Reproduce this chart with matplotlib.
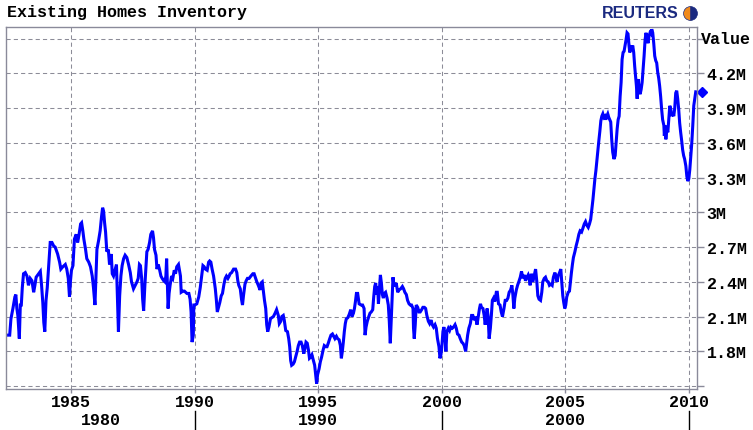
import numpy as np
import matplotlib.pyplot as plt
import matplotlib.transforms as mtransforms

# existing homes inventory, millions
years = [
    1982.40, 1982.51, 1982.56, 1982.64, 1982.72, 1982.76, 1982.80, 1982.84, 1982.90, 1982.94, 1982.98,
    1983.02, 1983.07, 1983.14, 1983.21, 1983.27, 1983.34, 1983.41, 1983.48, 1983.53, 1983.58, 1983.68,
    1983.75, 1983.80, 1983.85, 1983.89, 1983.93, 1983.98,
    1984.03, 1984.08, 1984.15, 1984.22, 1984.29, 1984.35, 1984.45, 1984.53, 1984.58, 1984.66, 1984.76,
    1984.82, 1984.88, 1984.93, 1984.97,
    1985.01, 1985.07, 1985.13, 1985.20, 1985.26, 1985.31, 1985.38, 1985.42, 1985.47, 1985.51, 1985.58,
    1985.63, 1985.71, 1985.78, 1985.85, 1985.90, 1985.96,
    1986.00, 1986.04, 1986.11, 1986.17, 1986.23, 1986.27, 1986.31, 1986.35, 1986.39, 1986.44, 1986.50,
    1986.55, 1986.62, 1986.66, 1986.71, 1986.78, 1986.83, 1986.87, 1986.91, 1986.96,
    1987.01, 1987.06, 1987.12, 1987.18, 1987.25, 1987.32, 1987.39, 1987.44, 1987.52, 1987.59, 1987.66,
    1987.71, 1987.76, 1987.80, 1987.85, 1987.89, 1987.93, 1987.98,
    1988.02, 1988.06, 1988.11, 1988.17, 1988.22, 1988.29, 1988.33, 1988.37, 1988.43, 1988.47, 1988.52,
    1988.57, 1988.63, 1988.68, 1988.74, 1988.79, 1988.83, 1988.86, 1988.88, 1988.92, 1988.96,
    1989.00, 1989.06, 1989.11, 1989.17, 1989.22, 1989.27, 1989.34, 1989.38, 1989.42, 1989.45, 1989.52,
    1989.58, 1989.68, 1989.76, 1989.81, 1989.85, 1989.89, 1989.94, 1989.96,
    1990.00, 1990.08, 1990.16, 1990.22, 1990.27, 1990.33, 1990.38, 1990.43, 1990.50, 1990.56, 1990.60,
    1990.65, 1990.70, 1990.76, 1990.83, 1990.87, 1990.91, 1990.96,
    1991.01, 1991.07, 1991.12, 1991.18, 1991.23, 1991.28, 1991.34, 1991.39, 1991.43, 1991.49, 1991.57,
    1991.65, 1991.70, 1991.74, 1991.78, 1991.84, 1991.89, 1991.93, 1991.97,
    1992.03, 1992.08, 1992.13, 1992.20, 1992.27, 1992.35, 1992.40, 1992.51, 1992.57, 1992.64, 1992.68,
    1992.73, 1992.78, 1992.82, 1992.87, 1992.91, 1992.95,
    1993.00, 1993.06, 1993.11, 1993.18, 1993.25, 1993.31, 1993.38, 1993.42, 1993.48, 1993.52, 1993.58,
    1993.62, 1993.68, 1993.75, 1993.80, 1993.84, 1993.88, 1993.92, 1993.98,
    1994.03, 1994.08, 1994.14, 1994.19, 1994.24, 1994.30, 1994.35, 1994.41, 1994.46, 1994.50, 1994.55,
    1994.60, 1994.64, 1994.69, 1994.74, 1994.80, 1994.85, 1994.89, 1994.93, 1994.97,
    1995.03, 1995.08, 1995.13, 1995.19, 1995.24, 1995.30, 1995.35, 1995.40, 1995.46, 1995.51, 1995.57,
    1995.62, 1995.67, 1995.73, 1995.78, 1995.84, 1995.89, 1995.93, 1995.97,
    1996.01, 1996.05, 1996.09, 1996.13, 1996.19, 1996.25, 1996.31, 1996.36, 1996.42, 1996.46, 1996.50,
    1996.54, 1996.59, 1996.65, 1996.73, 1996.79, 1996.85, 1996.89, 1996.93, 1996.98,
    1997.04, 1997.09, 1997.14, 1997.20, 1997.24, 1997.28, 1997.32, 1997.36, 1997.40, 1997.43, 1997.47,
    1997.51, 1997.55, 1997.59, 1997.63, 1997.67, 1997.72, 1997.78, 1997.83, 1997.87, 1997.91, 1997.95,
    1997.99, 1998.02,
    1998.04, 1998.10, 1998.15, 1998.21, 1998.26, 1998.33, 1998.40, 1998.45, 1998.50, 1998.56, 1998.61,
    1998.67, 1998.72, 1998.77, 1998.83, 1998.85, 1998.88, 1998.92, 1998.96,
    1999.02, 1999.07, 1999.12, 1999.18, 1999.23, 1999.29, 1999.34, 1999.39, 1999.45, 1999.50, 1999.56,
    1999.61, 1999.66, 1999.72, 1999.77, 1999.82, 1999.88, 1999.92, 1999.96,
    2000.00, 2000.04, 2000.08, 2000.12, 2000.16, 2000.20, 2000.26, 2000.31, 2000.36, 2000.42, 2000.47,
    2000.53, 2000.58, 2000.63, 2000.69, 2000.74, 2000.80, 2000.85, 2000.90, 2000.96,
    2001.00, 2001.04, 2001.09, 2001.15, 2001.20, 2001.25, 2001.31, 2001.36, 2001.42, 2001.47, 2001.52,
    2001.56, 2001.60, 2001.66, 2001.71, 2001.75, 2001.79, 2001.83, 2001.87, 2001.91, 2001.96,
    2002.00, 2002.04, 2002.09, 2002.14, 2002.20, 2002.24, 2002.29, 2002.35, 2002.40, 2002.45, 2002.51,
    2002.56, 2002.62, 2002.67, 2002.72, 2002.78, 2002.83, 2002.87, 2002.91, 2002.95,
    2003.01, 2003.06, 2003.11, 2003.17, 2003.22, 2003.28, 2003.33, 2003.38, 2003.44, 2003.49, 2003.52,
    2003.57, 2003.62, 2003.68, 2003.73, 2003.79, 2003.84, 2003.88, 2003.93, 2003.99,
    2004.04, 2004.08, 2004.14, 2004.19, 2004.24, 2004.30, 2004.35, 2004.41, 2004.46, 2004.51, 2004.57,
    2004.62, 2004.66, 2004.70, 2004.76, 2004.81, 2004.85, 2004.89, 2004.93, 2004.97,
    2005.01, 2005.05, 2005.11, 2005.16, 2005.20, 2005.24, 2005.28, 2005.32, 2005.38, 2005.43, 2005.49,
    2005.54, 2005.59, 2005.65, 2005.70, 2005.76, 2005.81, 2005.86, 2005.92, 2005.97,
    2006.02, 2006.07, 2006.11, 2006.15, 2006.19, 2006.23, 2006.27, 2006.31, 2006.35, 2006.39, 2006.43,
    2006.47, 2006.51, 2006.55, 2006.59, 2006.63, 2006.67, 2006.71, 2006.75, 2006.79, 2006.83, 2006.87,
    2006.91, 2006.96,
    2007.01, 2007.05, 2007.09, 2007.13, 2007.17, 2007.21, 2007.25, 2007.29, 2007.33, 2007.37, 2007.41,
    2007.45, 2007.49, 2007.53, 2007.57, 2007.60, 2007.64, 2007.68, 2007.72, 2007.76, 2007.80, 2007.84,
    2007.87, 2007.90, 2007.92, 2007.95, 2007.98,
    2008.02, 2008.06, 2008.10, 2008.14, 2008.18, 2008.22, 2008.26, 2008.30, 2008.34, 2008.38, 2008.42,
    2008.46, 2008.49, 2008.53, 2008.57, 2008.61, 2008.65, 2008.69, 2008.73, 2008.77, 2008.81, 2008.85,
    2008.89, 2008.93, 2008.98,
    2009.00, 2009.03, 2009.06, 2009.10, 2009.14, 2009.18, 2009.22, 2009.26, 2009.30, 2009.34, 2009.38,
    2009.42, 2009.46, 2009.50, 2009.54, 2009.58, 2009.62, 2009.66, 2009.70, 2009.74, 2009.78, 2009.82,
    2009.87, 2009.91, 2009.95, 2009.99,
    2010.03, 2010.07, 2010.11, 2010.15, 2010.19, 2010.23, 2010.27,
]
inventory = [
    1.94, 1.94, 2.08, 2.17, 2.27, 2.29, 2.17, 2.11, 1.91, 2.20, 2.20,
    2.35, 2.47, 2.48, 2.45, 2.37, 2.43, 2.41, 2.31, 2.37, 2.44, 2.47,
    2.49, 2.37, 2.22, 2.05, 1.97, 2.24,
    2.35, 2.51, 2.74, 2.74, 2.71, 2.70, 2.64, 2.57, 2.51, 2.53, 2.55,
    2.51, 2.43, 2.27, 2.41,
    2.50, 2.54, 2.77, 2.81, 2.74, 2.80, 2.90, 2.91, 2.84, 2.77, 2.68,
    2.60, 2.57, 2.53, 2.45, 2.35, 2.20,
    2.44, 2.68, 2.76, 2.84, 2.97, 3.04, 3.01, 2.91, 2.83, 2.66, 2.68,
    2.55, 2.64, 2.47, 2.45, 2.51, 2.55, 2.25, 1.97, 2.28,
    2.45, 2.54, 2.60, 2.63, 2.61, 2.55, 2.48, 2.40, 2.34, 2.37, 2.40,
    2.43, 2.55, 2.54, 2.43, 2.25, 2.15, 2.37,
    2.51, 2.66, 2.68, 2.74, 2.81, 2.84, 2.78, 2.68, 2.63, 2.51, 2.55,
    2.51, 2.45, 2.43, 2.41, 2.40, 2.45, 2.60, 2.45, 2.17, 2.30,
    2.37, 2.45, 2.43, 2.50, 2.47, 2.53, 2.55, 2.50, 2.45, 2.31, 2.32,
    2.32, 2.30, 2.30, 2.25, 2.14, 1.88, 1.94, 2.20,
    2.20, 2.21, 2.27, 2.35, 2.44, 2.54, 2.53, 2.51, 2.50, 2.57, 2.58,
    2.57, 2.51, 2.45, 2.34, 2.25, 2.14, 2.18,
    2.22, 2.28, 2.30, 2.38, 2.43, 2.45, 2.43, 2.45, 2.47, 2.48, 2.51,
    2.51, 2.48, 2.41, 2.37, 2.34, 2.25, 2.20, 2.28,
    2.38, 2.41, 2.43, 2.43, 2.45, 2.47, 2.47, 2.40, 2.37, 2.33, 2.39,
    2.40, 2.31, 2.24, 2.17, 2.03, 1.97,
    2.01, 2.08, 2.09, 2.10, 2.13, 2.16, 2.11, 2.04, 2.06, 2.10, 2.11,
    2.07, 1.98, 1.97, 1.91, 1.84, 1.72, 1.68, 1.69,
    1.71, 1.75, 1.80, 1.85, 1.88, 1.88, 1.85, 1.78, 1.83, 1.88, 1.87,
    1.81, 1.74, 1.75, 1.77, 1.72, 1.68, 1.60, 1.52, 1.60,
    1.65, 1.71, 1.75, 1.81, 1.85, 1.84, 1.84, 1.87, 1.91, 1.94, 1.95,
    1.93, 1.91, 1.93, 1.91, 1.90, 1.85, 1.74, 1.80,
    1.88, 1.97, 2.04, 2.08, 2.09, 2.12, 2.16, 2.10, 2.13, 2.17, 2.23,
    2.30, 2.30, 2.21, 2.20, 2.20, 2.17, 1.94, 2.01, 2.06,
    2.10, 2.13, 2.14, 2.16, 2.27, 2.36, 2.39, 2.29, 2.36, 2.21, 2.33,
    2.46, 2.39, 2.29, 2.26, 2.30, 2.31, 2.26, 2.20, 2.06, 1.87, 2.08,
    2.29, 2.44,
    2.40, 2.36, 2.39, 2.31, 2.33, 2.34, 2.36, 2.34, 2.31, 2.29, 2.24,
    2.21, 2.20, 2.20, 2.17, 2.00, 1.91, 2.03, 2.20,
    2.18, 2.14, 2.14, 2.16, 2.18, 2.18, 2.17, 2.11, 2.06, 2.04, 2.07,
    2.03, 2.01, 2.03, 2.00, 1.91, 1.84, 1.74, 1.77,
    1.85, 1.97, 2.01, 1.94, 1.80, 1.97, 2.00, 1.98, 2.01, 2.00, 2.01,
    2.03, 2.00, 1.95, 1.94, 1.91, 1.88, 1.87, 1.85, 1.80,
    1.87, 1.94, 2.00, 2.04, 2.11, 2.11, 2.07, 2.10, 2.03, 2.10, 2.17,
    2.21, 2.18, 2.17, 2.11, 2.03, 2.11, 2.17, 2.10, 1.91, 2.00,
    2.11, 2.24, 2.26, 2.23, 2.31, 2.31, 2.21, 2.20, 2.14, 2.10, 2.17,
    2.24, 2.24, 2.26, 2.31, 2.33, 2.37, 2.29, 2.17, 2.26,
    2.33, 2.37, 2.40, 2.44, 2.49, 2.43, 2.46, 2.41, 2.44, 2.46, 2.44,
    2.37, 2.47, 2.40, 2.45, 2.51, 2.40, 2.28, 2.25, 2.24,
    2.31, 2.40, 2.43, 2.44, 2.41, 2.40, 2.37, 2.38, 2.37, 2.44, 2.48,
    2.44, 2.40, 2.45, 2.48, 2.51, 2.40, 2.28, 2.22, 2.17,
    2.20, 2.27, 2.31, 2.32, 2.40, 2.48, 2.55, 2.61, 2.66, 2.71, 2.76,
    2.81, 2.84, 2.83, 2.86, 2.90, 2.92, 2.89, 2.87, 2.90,
    2.94, 3.03, 3.11, 3.20, 3.29, 3.36, 3.45, 3.53, 3.62, 3.70, 3.79,
    3.83, 3.85, 3.82, 3.83, 3.80, 3.83, 3.85, 3.82, 3.80, 3.78, 3.63,
    3.52, 3.46,
    3.49, 3.60, 3.72, 3.80, 3.83, 4.00, 4.12, 4.32, 4.38, 4.39, 4.44,
    4.49, 4.55, 4.54, 4.44, 4.38, 4.42, 4.41, 4.44, 4.38, 4.26, 4.16,
    4.09, 3.98, 4.09, 4.15, 4.05,
    4.02, 4.06, 4.12, 4.23, 4.35, 4.49, 4.55, 4.49, 4.46, 4.52, 4.55,
    4.54, 4.58, 4.55, 4.46, 4.35, 4.31, 4.29, 4.21, 4.16, 4.09, 4.00,
    3.89, 3.80, 3.75,
    3.66, 3.75, 3.63, 3.72, 3.69, 3.80, 3.92, 3.89, 3.83, 3.86, 3.83,
    3.90, 4.03, 4.05, 3.98, 3.89, 3.77, 3.69, 3.62, 3.54, 3.49, 3.46,
    3.40, 3.31, 3.27, 3.29,
    3.37, 3.49, 3.60, 3.75, 3.92, 3.98, 4.04,
]

year_ticks = [1985, 1990, 1995, 2000, 2005, 2010]
value_ticks = [1.5, 1.8, 2.1, 2.4, 2.7, 3.0, 3.3, 3.6, 3.9, 4.2, 4.5]
value_labels = ['', '1.8M', '2.1M', '2.4M', '2.7M', '3M', '3.3M', '3.6M', '3.9M', '4.2M', '']
decades = [1980, 1990, 2000]

mono = {'family': 'Liberation Mono', 'weight': 'bold', 'size': 12}
frame_col = '#8a8a9a'
grid_col = '#8c8c98'

fig = plt.figure(figsize=(7.53, 4.31), dpi=100)
ax = fig.add_axes([0.0086, 0.0951, 0.917, 0.840])

ax.plot(years, inventory, color='#0000ff', lw=2.2, solid_joinstyle='miter')
# current value marker on the right axis
ax.plot([2010.53], [inventory[-1]], marker='D', ms=5, color='#0000ff', clip_on=False)

x0, x1 = 1982.38, 2010.32
ax.set_xlim(x0, x1)
ax.set_ylim(1.475, 4.6)

ax.set_xticks(year_ticks)
ax.set_xticklabels([str(y) for y in year_ticks], fontdict=mono)
ax.set_yticks(value_ticks)
ax.set_yticklabels(value_labels, fontdict=mono)
ax.yaxis.tick_right()
ax.tick_params(axis='y', length=5, width=1, color=frame_col, pad=2)
ax.tick_params(axis='x', length=3, width=1, color=frame_col, pad=0.5)

ax.grid(True, color=grid_col, lw=0.75, linestyle=(0, (4, 3)))
for s in ax.spines.values():
    s.set_color(frame_col)
    s.set_linewidth(1)

ax.text(1.006, 4.5, 'Value', transform=mtransforms.blended_transform_factory(ax.transAxes, ax.transData),
        va='center', ha='left', fontdict=mono)

# decade row under the year labels
trans = mtransforms.blended_transform_factory(ax.transData, fig.transFigure)
for d in decades:
    lo = max(d, x0)
    hi = min(d + 10, 2010)
    ax.text((lo + hi) / 2, 0.024, str(d), transform=trans, ha='center', va='center', fontdict=mono)
for d in [1990, 2000, 2010]:
    ax.plot([d, d], [0.0, 0.044], transform=trans, color='black', lw=1, clip_on=False)

fig.text(7 / 753, 1 - 13 / 431, 'Existing Homes Inventory', ha='left', va='center', fontdict=mono)

# reuters logo
fig.text(679 / 753, 1 - 14 / 431, 'REUTERS', ha='right', va='center', color='#1b2a80',
         family='Liberation Sans', weight='bold', size=11.5)
fig.lines.append(plt.Line2D([690 / 753], [1 - 14 / 431], transform=fig.transFigure, marker='o', ms=10,
                            fillstyle='right', markerfacecolor='#1b2a80', markerfacecoloralt='#f08a1c',
                            markeredgecolor='#1b2a80', markeredgewidth=0.5))

fig.savefig('out.png', dpi=100)
